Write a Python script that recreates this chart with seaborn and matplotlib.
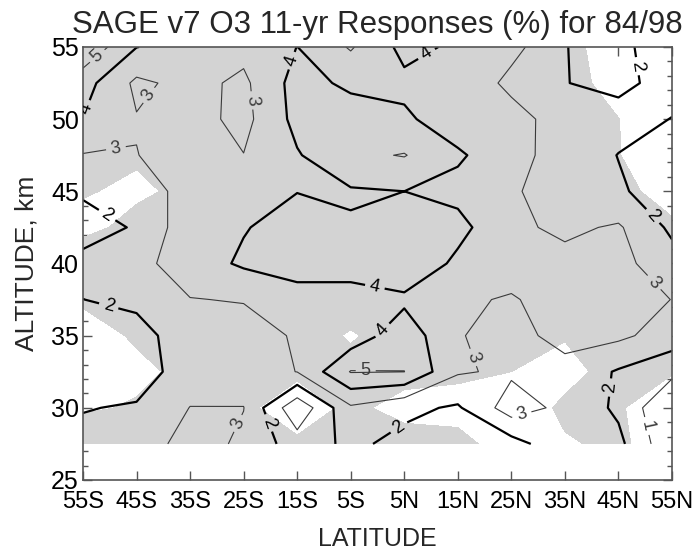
import numpy as np
import matplotlib
matplotlib.use("Agg")
import matplotlib.pyplot as plt
import seaborn as sns

# -------------------------
# Grid: latitude (deg) and altitude (km)
# -------------------------
lats = [-55, -45, -35, -25, -15, -5, 5, 15, 25, 35, 45, 55]
lat_labels = ["55S", "45S", "35S", "25S", "15S", "5S",
              "5N", "15N", "25N", "35N", "45N", "55N"]
alts = [27.5, 30.0, 32.5, 35.0, 37.5, 40.0, 42.5, 45.0, 47.5, 50.0, 52.5, 55.0]

# 11-yr response (%) at each altitude, 55S -> 55N
resp_275 = [2.30, 2.30, 3.50, 2.80, 1.50, 2.20, 1.72, 1.50, 1.60, 2.70, 2.25, 0.20]
resp_300 = [1.95, 2.10, 3.02, 3.02, 0.22, 2.85, 2.22, 1.88, 3.50, 2.73, 1.82, 0.00]
resp_325 = [1.30, 1.50, 2.52, 2.50, 3.02, 5.05, 5.01, 3.10, 2.84, 2.70, 1.90, 1.25]
resp_350 = [1.50, 1.50, 2.75, 2.60, 3.10, 3.38, 4.62, 3.05, 2.70, 3.30, 3.20, 2.55]
resp_375 = [1.99, 2.30, 2.97, 3.05, 3.50, 3.60, 3.80, 3.17, 2.90, 3.50, 3.30, 2.99]
resp_400 = [2.42, 2.70, 3.50, 4.15, 4.54, 4.43, 4.80, 3.79, 3.50, 3.30, 3.30, 2.40]
resp_425 = [1.37, 2.14, 3.62, 3.94, 4.40, 4.09, 4.60, 4.30, 3.20, 2.80, 3.12, 1.80]
resp_450 = [2.20, 2.50, 3.36, 3.50, 3.98, 3.90, 4.00, 3.72, 3.10, 2.60, 2.10, 1.60]
resp_475 = [2.95, 2.98, 3.40, 3.02, 3.92, 4.80, 5.05, 4.13, 3.40, 2.50, 1.98, 1.60]
resp_500 = [3.98, 3.05, 3.40, 2.70, 4.30, 4.50, 4.15, 3.50, 3.50, 2.40, 2.30, 1.98]
resp_525 = [4.40, 2.80, 3.30, 2.80, 4.38, 3.80, 3.78, 3.96, 2.68, 2.02, 1.80, 2.30]
resp_550 = [5.85, 4.02, 3.60, 3.30, 4.01, 2.90, 4.28, 3.84, 3.35, 2.02, 1.70, 2.70]

# significance measure (shaded where > 0)
sig_275 = [1.57, 1.0, 1.0, 0.8, 0.32, 0.8, 0.8, 0.5, -0.8, -0.15, 0.3, -1.0]
sig_300 = [-0.3, 0.21, 1.0, 0.4, -1.0, 0.4, -0.6, -0.6, -1.0, 0.3, 0.15, -1.0]
sig_325 = [-1.0, -0.5, 0.56, 1.0, 0.35, 1.0, 0.6, 0.3, 0.0, -0.5, 0.6, 0.1]
sig_350 = [-1.0, 0.28, 1.5, 1.5, 1.5, -0.3, 1.5, 1.5, 1.5, 0.1, 1.5, 1.5]
sig_375 = [0.32, 1.5, 1.5, 1.5, 1.5, 1.5, 1.5, 1.5, 1.5, 1.5, 1.5, 1.5]
sig_400 = [2.5, 1.5, 1.5, 1.5, 1.5, 1.5, 1.5, 1.5, 1.5, 1.5, 1.5, 1.0]
sig_425 = [-1.0, 1.07, 1.5, 1.5, 1.5, 1.5, 1.5, 1.5, 1.5, 1.5, 1.5, 0.3]
sig_450 = [0.25, -0.6, 0.8, 1.5, 1.5, 1.5, 1.5, 1.5, 1.5, 1.5, 0.5, -0.7]
sig_475 = [1.5, 0.4, 1.5, 1.5, 1.5, 1.5, 1.5, 1.5, 1.5, 1.5, 0.05, -1.0]
sig_500 = [1.5, 1.5, 1.5, 1.5, 1.5, 1.5, 1.5, 1.5, 1.5, 1.0, 0.02, -1.0]
sig_525 = [1.5, 1.5, 1.5, 1.5, 1.5, 1.5, 1.5, 1.5, 1.5, 0.5, -0.5, -1.5]
sig_550 = [1.5, 1.5, 1.5, 1.5, 1.5, 1.5, 1.5, 1.5, 1.5, 0.5, -0.8, -1.5]

Z = np.array([resp_275, resp_300, resp_325, resp_350, resp_375, resp_400,
              resp_425, resp_450, resp_475, resp_500, resp_525, resp_550])
S = np.array([sig_275, sig_300, sig_325, sig_350, sig_375, sig_400,
              sig_425, sig_450, sig_475, sig_500, sig_525, sig_550])
LAT, ALT = np.meshgrid(lats, alts)

# label positions (lat, alt)
thick_label_pos = [(-53.4, 50.6), (-50, 43.6), (-16.5, 54.1), (9, 54.6),
                   (49.2, 53.7), (51.8, 43.4), (-0.3, 38.7), (-50, 37.3),
                   (1.5, 35.2), (-19.9, 29.0), (4.3, 28.5), (43.6, 31.4)]
thin_label_pos = [(-52.4, 54.4), (-42.9, 51.7), (-48.7, 47.7), (-23.4, 51.3),
                  (52.4, 38.9), (-2.2, 32.6), (18, 33.5), (-28, 29.2),
                  (26.9, 29.6), (51.1, 28.8)]

# -------------------------
# Plot
# -------------------------
sns.set_theme(style="ticks")
plt.rcParams['font.family'] = ['Liberation Sans', 'DejaVu Sans']

fig = plt.figure(figsize=(6.95, 5.54), dpi=100)
ax = fig.add_axes([0.1194, 0.1336, 0.8475, 0.7816])

ax.contourf(LAT, ALT, S, levels=[0, 100], colors=['#d3d3d3'])
cs_thin = ax.contour(LAT, ALT, Z, levels=[1, 3, 5], colors='#3a3a3a', linewidths=0.8)
cs_thick = ax.contour(LAT, ALT, Z, levels=[2, 4], colors='black', linewidths=1.6)
ax.clabel(cs_thick, manual=thick_label_pos, inline=True, fmt='%d', fontsize=13)
ax.clabel(cs_thin, manual=thin_label_pos, inline=True, fmt='%d', fontsize=13)

ax.set_xlim(-55, 55)
ax.set_ylim(25, 55)
ax.set_xticks(lats)
ax.set_xticklabels(lat_labels)
ax.set_yticks([25, 30, 35, 40, 45, 50, 55])
ax.set_yticks(np.arange(25, 56, 1), minor=True)
ax.tick_params(axis='both', which='both', direction='in', top=True, right=True,
               colors='#555555', labelcolor='black')
ax.tick_params(axis='x', labelsize=17, pad=8)
ax.tick_params(axis='y', labelsize=18, pad=3)
ax.tick_params(which='major', length=6.5, width=1)
ax.tick_params(which='minor', length=3.6, width=1)
for sp in ax.spines.values():
    sp.set_color('#555555')
    sp.set_linewidth(1.2)

ax.set_xlabel('LATITUDE', fontsize=18, labelpad=10)
ax.set_ylabel('ALTITUDE, km', fontsize=19, labelpad=9)
ax.set_title('SAGE v7 O3 11-yr Responses (%) for 84/98', fontsize=22.5, pad=10)

fig.savefig('out.png', dpi=100)
